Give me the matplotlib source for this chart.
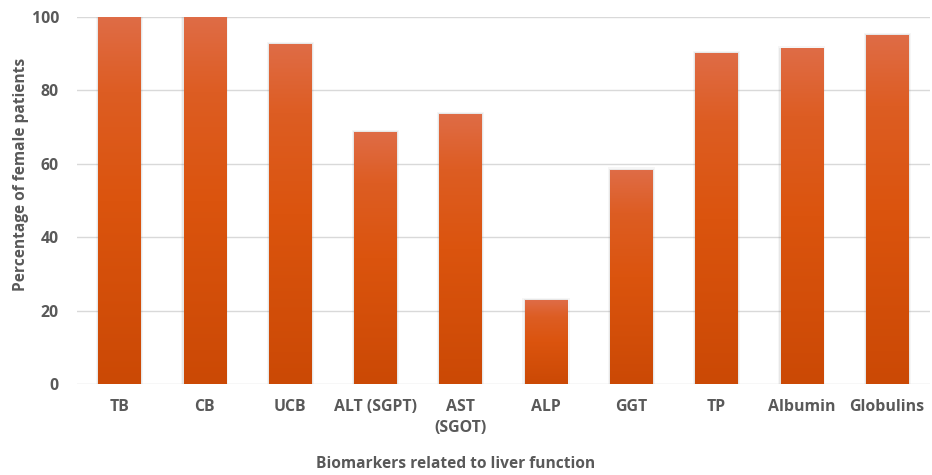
import matplotlib
matplotlib.use("Agg")
import matplotlib.pyplot as plt
import numpy as np
from matplotlib.colors import LinearSegmentedColormap
from matplotlib.patches import Rectangle

biomarkers = ["TB", "CB", "UCB", "ALT (SGPT)", "AST\n(SGOT)", "ALP", "GGT", "TP", "Albumin", "Globulins"]
female_pct = [100, 100, 92.5, 68.5, 73.5, 22.8, 58.3, 90.0, 91.3, 95.0]

plt.rcParams["font.family"] = ["Open Sans", "DejaVu Sans"]
text_color = "#595959"

# orange fill that darkens from top to bottom of each bar
bar_cmap = LinearSegmentedColormap.from_list(
    "bar_orange", [(0.0, "#CB4905"), (0.5, "#DB540E"), (0.8, "#DD5D23"), (1.0, "#DF6C46")]
)

fig = plt.figure(figsize=(9.32, 4.75), dpi=100)
ax = fig.add_axes([0.0826, 0.1916, 0.915, 0.7726])

x = np.arange(len(biomarkers))
width = 0.5
bars = ax.bar(x, female_pct, width=width, color="none", zorder=3)

grad = np.linspace(0, 1, 256).reshape(-1, 1)
for rect in bars:
    x0, y0 = rect.get_x(), rect.get_y()
    w, h = rect.get_width(), rect.get_height()
    # soft grey shadow around the bar
    for i, a in enumerate([0.12, 0.07]):
        pad_x = 0.013 * (i + 1)
        pad_y = 0.35 * (i + 1)
        ax.add_patch(Rectangle((x0 - pad_x, y0), w + 2 * pad_x, h + pad_y,
                               facecolor="#808080", edgecolor="none", alpha=a, zorder=2))
    ax.imshow(grad, cmap=bar_cmap, origin="lower", aspect="auto", interpolation="nearest",
              extent=(x0, x0 + w, y0, y0 + h), zorder=3)

ax.set_xlim(-0.5, len(biomarkers) - 0.5)
ax.set_ylim(0, 100)
ax.set_yticks(np.arange(0, 101, 20))
ax.set_xticks(x)
ax.set_xticklabels(biomarkers, fontsize=11.4, fontweight="bold", color=text_color, linespacing=1.4)
ax.tick_params(axis="y", labelsize=11.4, labelcolor=text_color, length=0, pad=13)
ax.tick_params(axis="x", length=0, pad=11)
for lbl in ax.get_yticklabels():
    lbl.set_fontweight("bold")

ax.grid(axis="y", color="#D9D9D9", linewidth=1.0, zorder=0)
ax.set_axisbelow(True)
for side in ["top", "right", "left", "bottom"]:
    ax.spines[side].set_visible(False)

ax.set_ylabel("Percentage of female patients", fontsize=11.2, fontweight="bold", color=text_color)
ax.set_xlabel("Biomarkers related to liver function", fontsize=11.2, fontweight="bold", color=text_color)
ax.yaxis.set_label_coords(-0.056, 0.572)
ax.xaxis.set_label_coords(0.444, -0.195)

fig.savefig("out.png", dpi=100)
